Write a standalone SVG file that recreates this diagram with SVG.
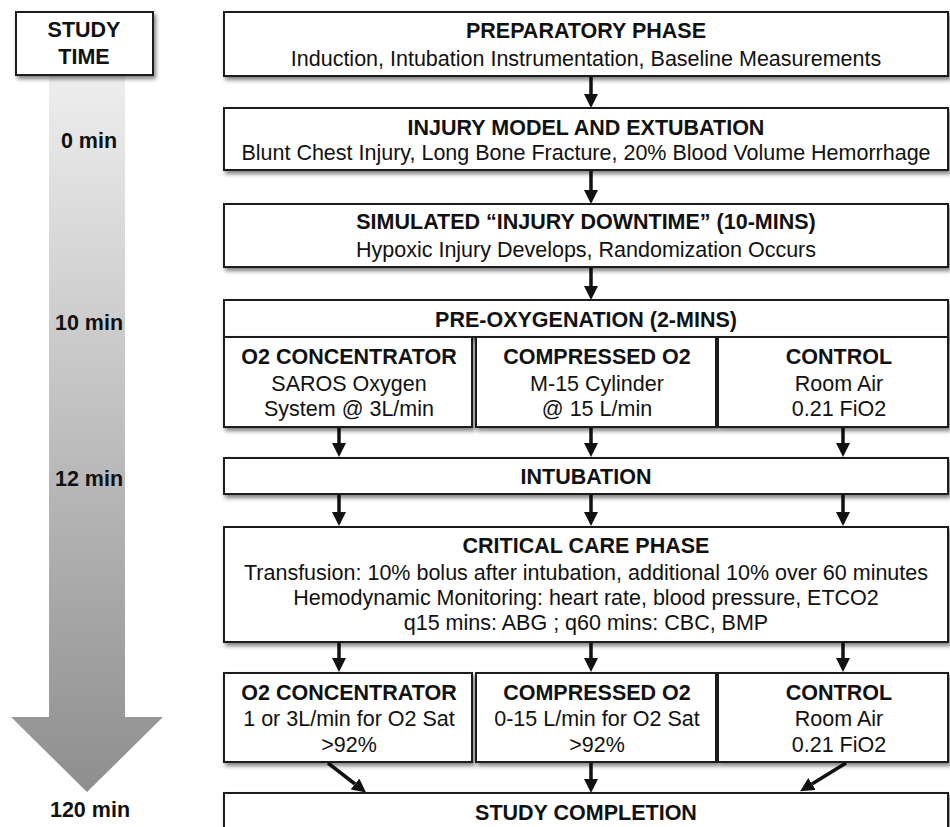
<svg xmlns="http://www.w3.org/2000/svg" width="950" height="827" viewBox="0 0 950 827">
<defs>
<style>
.box{fill:#fff;stroke:#1a1a1a;stroke-width:2;filter:url(#sh)}
.t{font-family:"Liberation Sans",Arial,sans-serif;font-size:21.5px;fill:#111;text-anchor:middle}
.b{font-weight:bold}
.c{stroke:#111;stroke-width:3.5;fill:none;marker-end:url(#ah)}
</style>
<filter id="sh" x="-5%" y="-20%" width="110%" height="150%">
<feDropShadow dx="2" dy="3" stdDeviation="2" flood-color="#000" flood-opacity="0.5"/>
</filter>
<marker id="ah" markerWidth="15" markerHeight="15" refX="0" refY="7" orient="auto" markerUnits="userSpaceOnUse">
<path d="M0,0 L14,7 L0,14 z" fill="#111"/>
</marker>
<linearGradient id="tg" gradientUnits="userSpaceOnUse" x1="0" y1="75" x2="0" y2="792">
<stop offset="0" stop-color="#eeeeee"/>
<stop offset="1" stop-color="#8e8e8e"/>
</linearGradient>
</defs>

<g id="timeline">
<path d="M49,75 L125,75 L125,717 L163,717 L87,792 L11,717 L49,717 Z" fill="url(#tg)"/>
<rect class="box" x="16" y="12" width="137" height="63"/>
<text class="t b" x="84" y="37">STUDY</text>
<text class="t b" x="84" y="64">TIME</text>
<text class="t b" x="89" y="148">0 min</text>
<text class="t b" x="89" y="330">10 min</text>
<text class="t b" x="89" y="486">12 min</text>
<text class="t b" x="90" y="817">120 min</text>
</g>

<g id="connectors">
<line class="c" x1="591" y1="77" x2="591" y2="94"/>
<line class="c" x1="591" y1="171" x2="591" y2="190"/>
<line class="c" x1="591" y1="268" x2="591" y2="286"/>
<line class="c" x1="339" y1="428" x2="339" y2="443"/>
<line class="c" x1="591" y1="428" x2="591" y2="443"/>
<line class="c" x1="843" y1="428" x2="843" y2="443"/>
<line class="c" x1="339" y1="495" x2="339" y2="512"/>
<line class="c" x1="591" y1="495" x2="591" y2="512"/>
<line class="c" x1="843" y1="495" x2="843" y2="512"/>
<line class="c" x1="339" y1="643" x2="339" y2="658"/>
<line class="c" x1="591" y1="643" x2="591" y2="658"/>
<line class="c" x1="843" y1="643" x2="843" y2="658"/>
<line class="c" x1="328" y1="763" x2="355" y2="784"/>
<line class="c" x1="591" y1="763" x2="591" y2="779"/>
<line class="c" x1="846" y1="763" x2="812" y2="784"/>
</g>

<g id="preparatory">
<rect class="box" x="224" y="12" width="724" height="64"/>
<text class="t b" x="586" y="38">PREPARATORY PHASE</text>
<text class="t" x="586" y="66">Induction, Intubation Instrumentation, Baseline Measurements</text>
</g>

<g id="injury">
<rect class="box" x="224" y="108" width="724" height="62"/>
<text class="t b" x="586" y="135">INJURY MODEL AND EXTUBATION</text>
<text class="t" x="586" y="160">Blunt Chest Injury, Long Bone Fracture, 20% Blood Volume Hemorrhage</text>
</g>

<g id="downtime">
<rect class="box" x="224" y="204" width="724" height="63"/>
<text class="t b" x="586" y="229">SIMULATED “INJURY DOWNTIME” (10-MINS)</text>
<text class="t" x="586" y="257">Hypoxic Injury Develops, Randomization Occurs</text>
</g>

<g id="preox">
<rect class="box" x="224" y="300" width="724" height="37"/>
<text class="t b" x="586" y="327">PRE-OXYGENATION (2-MINS)</text>
</g>

<g id="preox-concentrator">
<rect class="box" x="224" y="337" width="248" height="90"/>
<text class="t b" x="349" y="364">O2 CONCENTRATOR</text>
<text class="t" x="349" y="391">SAROS Oxygen</text>
<text class="t" x="349" y="416">System @ 3L/min</text>
</g>

<g id="preox-compressed">
<rect class="box" x="476" y="337" width="240" height="90"/>
<text class="t b" x="597" y="364">COMPRESSED O2</text>
<text class="t" x="597" y="391">M-15 Cylinder</text>
<text class="t" x="597" y="416">@ 15 L/min</text>
</g>

<g id="preox-control">
<rect class="box" x="718" y="337" width="230" height="90"/>
<text class="t b" x="839" y="364">CONTROL</text>
<text class="t" x="839" y="391">Room Air</text>
<text class="t" x="839" y="416">0.21 FiO2</text>
</g>

<g id="intubation">
<rect class="box" x="224" y="458" width="724" height="36"/>
<text class="t b" x="586" y="484">INTUBATION</text>
</g>

<g id="critical">
<rect class="box" x="224" y="527" width="724" height="115"/>
<text class="t b" x="586" y="553">CRITICAL CARE PHASE</text>
<text class="t" x="586" y="580">Transfusion: 10% bolus after intubation, additional 10% over 60 minutes</text>
<text class="t" x="586" y="605">Hemodynamic Monitoring: heart rate, blood pressure, ETCO2</text>
<text class="t" x="586" y="630">q15 mins: ABG ; q60 mins: CBC, BMP</text>
</g>

<g id="cc-concentrator">
<rect class="box" x="224" y="673" width="248" height="89"/>
<text class="t b" x="349" y="700">O2 CONCENTRATOR</text>
<text class="t" x="349" y="726">1 or 3L/min for O2 Sat</text>
<text class="t" x="349" y="752">&gt;92%</text>
</g>

<g id="cc-compressed">
<rect class="box" x="476" y="673" width="240" height="89"/>
<text class="t b" x="597" y="700">COMPRESSED O2</text>
<text class="t" x="597" y="726">0-15 L/min for O2 Sat</text>
<text class="t" x="597" y="752">&gt;92%</text>
</g>

<g id="cc-control">
<rect class="box" x="718" y="673" width="230" height="89"/>
<text class="t b" x="839" y="700">CONTROL</text>
<text class="t" x="839" y="726">Room Air</text>
<text class="t" x="839" y="752">0.21 FiO2</text>
</g>

<g id="completion">
<rect class="box" x="224" y="793" width="724" height="50"/>
<text class="t b" x="586" y="820">STUDY COMPLETION</text>
</g>
</svg>
